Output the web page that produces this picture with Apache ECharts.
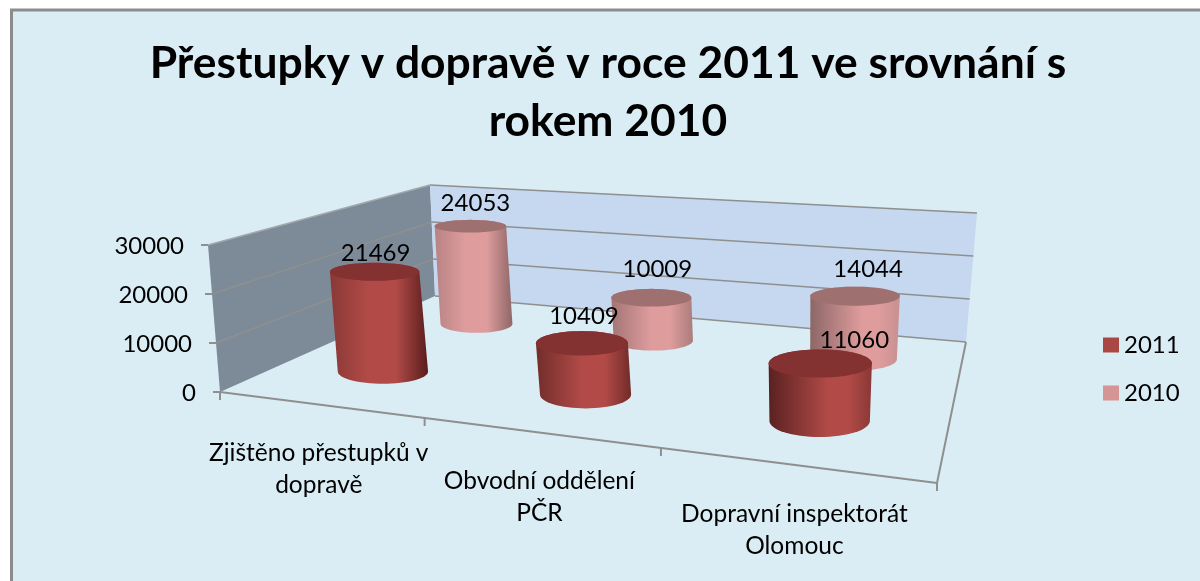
<!DOCTYPE html>
<html><head><meta charset="utf-8">
<style>html,body{margin:0;padding:0;background:#fff}#c{width:1200px;height:581px}</style>
<script src="https://cdn.jsdelivr.net/npm/echarts@6/dist/echarts.min.js"></script>
</head><body><div id="c"></div>
<script>
const titleText = 'Přestupky v dopravě v roce 2011 ve srovnání s\nrokem 2010';
const categories = ['Zjištěno přestupků v\ndopravě', 'Obvodní oddělení\nPČR', 'Dopravní inspektorát\nOlomouc'];
const seriesNames = ['2011', '2010'];
const values2011 = [21469, 10409, 11060];
const values2010 = [24053, 10009, 14044];
const yTicks = [0, 10000, 20000, 30000];

// Perspective box: floor and 30000-level planes (front-left, front-right, back-right, back-left)
const FLOOR = [[220,392],[937,483],[966,342],[435,296]];
const TOP   = [[208,245],[951,308],[977,213],[430,185]];
function homography(q){
  const [a,b,c,d]=q;
  const dx1=b[0]-c[0],dx2=d[0]-c[0],sx=a[0]-b[0]+c[0]-d[0];
  const dy1=b[1]-c[1],dy2=d[1]-c[1],sy=a[1]-b[1]+c[1]-d[1];
  const det=dx1*dy2-dx2*dy1;
  const g=(sx*dy2-dx2*sy)/det,h=(dx1*sy-sx*dy1)/det;
  return (u,v)=>{
    const w=g*u+h*v+1;
    return [(b[0]-a[0]+g*b[0])*u/w+(d[0]-a[0]+h*d[0])*v/w+a[0]/w,
            (b[1]-a[1]+g*b[1])*u/w+(d[1]-a[1]+h*d[1])*v/w+a[1]/w];
  };
}
const hF=homography(FLOOR),hT=homography(TOP);
function project(u,v,w){const p=hF(u,v),q=hT(u,v);return [p[0]+(q[0]-p[0])*w,p[1]+(q[1]-p[1])*w];}

const RU={'2011':[0.079,0.070,0.067],'2010':[0.071,0.070,0.068]},RV=0.105;
const ROW_DEPTH={'2011':0.26,'2010':0.74};
const U_NUDGE={'2011':[0.002,0.001,0.003],'2010':[0.007,0.004,0.004]};
const LABEL_SHIFT={'2011':[[1,-19],[2,-27],[34,-23]],'2010':[[5,-23],[6,-28],[13,-27]]};
const CAT_SHIFT=[0,1,1];
const FONT='Lato,"Open Sans",sans-serif';
const GRID={left:195,top:246,width:720,height:147};
const LINE='#8f8f8f';

function ring(u,v,w,ru){
  const c=project(u,v,w);
  const hw=Math.abs(project(u+ru,v,w)[0]-project(u-ru,v,w)[0])/2;
  const hh=Math.abs(project(u,v+RV,w)[1]-project(u,v-RV,w)[1])/2;
  const r=[];
  for(let i=0;i<64;i++){const t=i/64*2*Math.PI;r.push([c[0]+hw*Math.cos(t),c[1]+hh*Math.sin(t)]);}
  return r;
}
function hull(pts){
  const p=pts.slice().sort((a,b)=>a[0]-b[0]||a[1]-b[1]);
  const cr=(o,a,b)=>(a[0]-o[0])*(b[1]-o[1])-(a[1]-o[1])*(b[0]-o[0]);
  const lo=[],up=[];
  for(const x of p){while(lo.length>1&&cr(lo[lo.length-2],lo[lo.length-1],x)<=0)lo.pop();lo.push(x);}
  for(const x of p.slice().reverse()){while(up.length>1&&cr(up[up.length-2],up[up.length-1],x)<=0)up.pop();up.push(x);}
  return lo.slice(0,-1).concat(up.slice(0,-1));
}
const PAL={
 '2011':{top:'#833231',leftEdge:['#8a3836','#5a2120'],mid:'#b24b48',rightEdge:['#5a1d1c','#8a3836']},
 '2010':{top:'#9f7070',leftEdge:['#b88383','#8d6767'],mid:'#df9c9d',rightEdge:['#8f6767','#c79090']}
};
function cylinder(name){
  return function(params,api){
    const cs=params.coordSys,i=params.dataIndex;
    const u=(api.coord([api.value(0),0])[0]-cs.x)/cs.width;
    const w=(api.coord([0,0])[1]-api.coord([0,api.value(1)])[1])/cs.height;
    const v=ROW_DEPTH[name],un=u+U_NUDGE[name][i];
    const rb=ring(un,v,0,RU[name][i]),rt=ring(un,v,w,RU[name][i]);
    const pal=PAL[name];
    const k=Math.min(1,Math.max(0,(u-1/6)/(2/3)));
    const hi=0.4+0.18*k;
    const L=echarts.color.lerp(k,pal.leftEdge),R=echarts.color.lerp(k,pal.rightEdge);
    const fill=new echarts.graphic.LinearGradient(0,0,1,0,[
      {offset:0,color:L},{offset:hi,color:pal.mid},{offset:hi+(1-hi)*0.45,color:pal.mid},{offset:1,color:R}]);
    return {type:'group',children:[
      {type:'polygon',shape:{points:hull(rb.concat(rt))},style:{fill}},
      {type:'polygon',shape:{points:rt},style:{fill:pal.top}}
    ]};
  };
}
function valueLabels(name){
  return function(params,api){
    const cs=params.coordSys,i=params.dataIndex;
    const u=(api.coord([api.value(0),0])[0]-cs.x)/cs.width+U_NUDGE[name][i];
    const w=(api.coord([0,0])[1]-api.coord([0,api.value(1)])[1])/cs.height;
    const c=project(u,ROW_DEPTH[name],w),s=LABEL_SHIFT[name][i];
    return {type:'text',style:{text:String(api.value(1)),x:c[0]+s[0],y:c[1]+s[1],align:'center',verticalAlign:'middle',fill:'#000',font:'24px '+FONT}};
  };
}
function frame(params,api){
  const cs=params.coordSys,kids=[];
  const ln=(a,b,wd,col)=>kids.push({type:'line',shape:{x1:a[0],y1:a[1],x2:b[0],y2:b[1]},style:{stroke:col||LINE,lineWidth:wd||1.5}});
  kids.push({type:'polygon',shape:{points:[project(0,0,0),project(0,0,1),project(0,1,1),project(0,1,0)]},style:{fill:'#7d8b98'}});
  kids.push({type:'polygon',shape:{points:[project(0,1,0),project(0,1,1),project(1,1,1),project(1,1,0)]},style:{fill:'#c5d8f0'}});
  yTicks.forEach(t=>{
    const w=(api.coord([0,0])[1]-api.coord([0,t])[1])/cs.height;
    const a=project(0,0,w),b=project(0,1,w),d=project(1,1,w);
    if(t>0)ln(a,b,1.5,t===30000?'#a3a8ad':LINE);
    ln(b,d,1.5);
    ln([a[0]-7,a[1]],a,2);
    kids.push({type:'text',style:{text:String(t),x:a[0]-24,y:a[1]+1,align:'right',verticalAlign:'middle',fill:'#000',font:'24px '+FONT}});
  });
  ln(project(0,0,0),project(1,0,0),2);
  ln(project(1,0,0),project(1,1,0),2);
  categories.forEach((c,i)=>{
    const u=(api.coord([i,0])[0]-cs.x)/cs.width;
    const a=project(u+1/(2*categories.length),0,0);
    ln(a,[a[0],a[1]+8],2);
  });
  const a=project(0,0,0);ln(a,[a[0],a[1]+8],2);
  return {type:'group',children:kids};
}
function catLabels(params,api){
  const cs=params.coordSys;
  const i=api.value(0);
  const u=(api.coord([i,0])[0]-cs.x)/cs.width;
  const p=project(u,0,0);
  return {type:'text',style:{text:categories[i],x:p[0]+CAT_SHIFT[i],y:p[1]+33,align:'center',verticalAlign:'top',fill:'#000',font:'24.5px '+FONT,lineHeight:32}};
}
const chart=echarts.init(document.getElementById('c'),null,{renderer:'canvas'});
chart.setOption({
  animation:false,
  backgroundColor:'#fff',
  graphic:[{type:'rect',z:-10,shape:{x:11.5,y:10,width:1400,height:800},style:{fill:'#daedf4',stroke:'#8c8c8c',lineWidth:3}}],
  title:{text:titleText,left:603,top:30,textAlign:'center',textStyle:{fontFamily:FONT,fontWeight:'bold',fontSize:44.4,lineHeight:58,color:'#000'}},
  legend:{data:seriesNames,orient:'vertical',left:1103,top:333,padding:0,itemWidth:16,itemHeight:15,itemGap:24,icon:'rect',selectedMode:false,textStyle:{fontFamily:FONT,fontSize:24,color:'#000'}},
  grid:GRID,
  xAxis:{type:'category',data:categories,show:false},
  yAxis:{type:'value',min:0,max:30000,interval:10000,axisLine:{show:false},axisTick:{show:false},splitLine:{show:false},axisLabel:{show:false}},
  series:[
    {type:'custom',name:'frame',silent:true,z:1,clip:false,renderItem:frame,data:[[0,0]]},
    {type:'custom',name:'2010',silent:true,z:2,clip:false,itemStyle:{color:'#d49594'},renderItem:cylinder('2010'),data:values2010.map((v,i)=>[i,v])},
    {type:'custom',name:'2011',silent:true,z:3,clip:false,itemStyle:{color:'#a94745'},renderItem:cylinder('2011'),data:values2011.map((v,i)=>[i,v])},
    {type:'custom',name:'l2010',silent:true,z:4,clip:false,renderItem:valueLabels('2010'),data:values2010.map((v,i)=>[i,v])},
    {type:'custom',name:'l2011',silent:true,z:4,clip:false,renderItem:valueLabels('2011'),data:values2011.map((v,i)=>[i,v])},
    {type:'custom',name:'cats',silent:true,z:4,clip:false,renderItem:catLabels,data:categories.map((c,i)=>[i,0])}
  ]
});
</script></body></html>
